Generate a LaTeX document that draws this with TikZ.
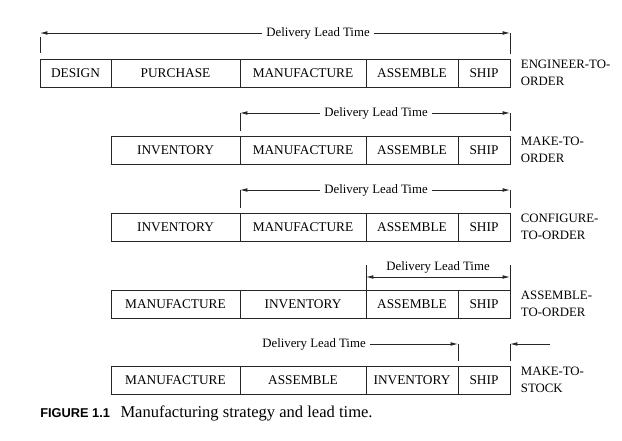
\documentclass[tikz,border=0pt]{standalone}
\usepackage{fontspec}
\setmainfont{Liberation Serif}
\setsansfont{Liberation Sans}
\usetikzlibrary{positioning,arrows.meta}
\begin{document}
\begin{tikzpicture}[x=0.75pt, y=-0.75pt, every node/.style={font=\fontsize{10}{12}\selectfont},
  cell/.style={draw=black!85,line width=0.6pt,minimum height=28*0.75pt,minimum width=#1*0.75pt,inner sep=0pt,outer sep=0pt},
  lbl/.style={align=left,inner sep=0pt,font=\fontsize{9.6}{12.6}\selectfont},
  lt/.style={font=\fontsize{9.6}{11}\selectfont},
  lead/.style={-{Latex[length=5.5pt,width=2.8pt]},line width=0.6pt,black!85},
  both/.style={{Latex[length=5.5pt,width=2.8pt]}-{Latex[length=5.5pt,width=2.8pt]},line width=0.6pt,black!85},
  tick/.style={line width=0.6pt,black!85}]
\useasboundingbox (0,0) rectangle (622,441);
% engineer-to-order
\node[cell=71] (design1) at (75.5,73) {DESIGN};
\node[cell=129] (purch1) at (175.5,73) {PURCHASE};
\node[cell=126] (manuf1) at (303,73) {MANUFACTURE};
\node[cell=92] (assem1) at (412,73) {ASSEMBLE};
\node[cell=52] (ship1) at (484,73) {SHIP};
\node[lbl,right=8pt of ship1] (eto) {ENGINEER-TO-\\ORDER};
\node[lt] (lt1) at (318,33) {Delivery Lead Time};
\coordinate (l1a) at (40,33); \coordinate (l1t) at (40,37); \coordinate (l1b) at (40,53);
\coordinate (r1a) at (510,33); \coordinate (r1b) at (510,54);
\draw[lead] (lt1) -- (l1a);
\draw[lead] (lt1) -- (r1a);
\draw[tick] (l1t) -- (l1b);
\draw[tick] (r1a) -- (r1b);
% make-to-order
\node[cell=129] (inv2) at (175.5,150) {INVENTORY};
\node[cell=126] (manuf2) at (303,150) {MANUFACTURE};
\node[cell=92] (assem2) at (412,150) {ASSEMBLE};
\node[cell=52] (ship2) at (484,150) {SHIP};
\node[lbl,right=8pt of ship2] (mto) {MAKE-TO-\\ORDER};
\node[lt] (lt2) at (376,113) {Delivery Lead Time};
\coordinate (l2a) at (240,113); \coordinate (l2b) at (240,131);
\coordinate (r2a) at (510,113); \coordinate (r2b) at (510,131);
\draw[lead] (lt2) -- (l2a);
\draw[lead] (lt2) -- (r2a);
\draw[tick] (l2a) -- (l2b);
\draw[tick] (r2a) -- (r2b);
% configure-to-order
\node[cell=129] (inv3) at (175.5,227) {INVENTORY};
\node[cell=126] (manuf3) at (303,227) {MANUFACTURE};
\node[cell=92] (assem3) at (412,227) {ASSEMBLE};
\node[cell=52] (ship3) at (484,227) {SHIP};
\node[lbl,right=8pt of ship3] (cto) {CONFIGURE-\\TO-ORDER};
\node[lt] (lt3) at (376,190) {Delivery Lead Time};
\coordinate (l3a) at (240,190); \coordinate (l3b) at (240,208);
\coordinate (r3a) at (510,190); \coordinate (r3b) at (510,208);
\draw[lead] (lt3) -- (l3a);
\draw[lead] (lt3) -- (r3a);
\draw[tick] (l3a) -- (l3b);
\draw[tick] (r3a) -- (r3b);
% assemble-to-order
\node[cell=129] (manuf4) at (175.5,304) {MANUFACTURE};
\node[cell=126] (inv4) at (303,304) {INVENTORY};
\node[cell=92] (assem4) at (412,304) {ASSEMBLE};
\node[cell=52] (ship4) at (484,304) {SHIP};
\node[lbl,right=8pt of ship4] (ato) {ASSEMBLE-\\TO-ORDER};
\node[lt] (lt4) at (438,267) {Delivery Lead Time};
\coordinate (l4a) at (366,265); \coordinate (l4m) at (366,277); \coordinate (l4b) at (366,290);
\coordinate (r4a) at (510,265); \coordinate (r4m) at (510,277); \coordinate (r4b) at (510,290);
\draw[both] (l4m) -- (r4m);
\draw[tick] (l4a) -- (l4b);
\draw[tick] (r4a) -- (r4b);
% make-to-stock
\node[cell=129] (manuf5) at (175.5,380) {MANUFACTURE};
\node[cell=126] (assem5) at (303,380) {ASSEMBLE};
\node[cell=92] (inv5) at (412,380) {INVENTORY};
\node[cell=52] (ship5) at (484,380) {SHIP};
\node[lbl,right=8pt of ship5] (mts) {MAKE-TO-\\STOCK};
\node[lt] (lt5) at (314,344) {Delivery Lead Time};
\coordinate (l5a) at (458,344); \coordinate (l5b) at (458,361);
\coordinate (r5a) at (510,344); \coordinate (r5b) at (510,361); \coordinate (r5c) at (550,344);
\draw[lead] (lt5) -- (l5a);
\draw[tick] (l5a) -- (l5b);
\draw[lead] (r5c) -- (r5a);
\draw[tick] (r5a) -- (r5b);
% caption
\node[anchor=base west,inner sep=0pt,font=\sffamily\bfseries\fontsize{9.6}{11}\selectfont] (fig) at (40,418) {FIGURE 1.1};
\node[base right=7.5pt of fig,inner sep=0pt,font=\fontsize{12.4}{14}\selectfont] (cap) {Manufacturing strategy and lead time.};
\end{tikzpicture}
\end{document}
